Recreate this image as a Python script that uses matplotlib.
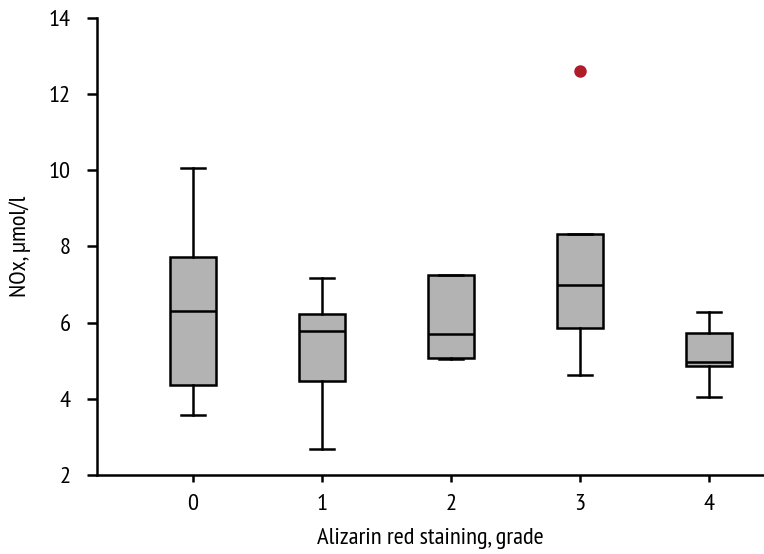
import matplotlib
matplotlib.use("Agg")
import matplotlib.pyplot as plt
from matplotlib import font_manager

regular = {f.name for f in font_manager.fontManager.ttflist
           if f.style == 'normal' and f.weight in (400, 'normal', 'regular')}
prefs = ["Open Sans Condensed", "PT Sans Narrow", "Roboto Condensed", "Asap Condensed",
         "Archivo Narrow", "Fira Sans Condensed", "Open Sans"]
fam = next((p for p in prefs if p in regular), "DejaVu Sans")
plt.rcParams['font.family'] = [fam, 'DejaVu Sans']
plt.rcParams['font.weight'] = 'normal'

grades = ["0", "1", "2", "3", "4"]
whisker_low = [3.57, 2.68, 5.04, 4.62, 4.06]
q1 = [4.36, 4.47, 5.08, 5.87, 4.86]
median = [6.30, 5.78, 5.69, 6.99, 4.96]
q3 = [7.72, 6.22, 7.25, 8.32, 5.74]
whisker_high = [10.07, 7.17, 7.25, 8.32, 6.29]
outliers = [[], [], [], [12.62], []]

y_ticks = [2, 4, 6, 8, 10, 12, 14]
xlabel = "Alizarin red staining, grade"
ylabel = "NOx, µmol/l"

fig = plt.figure(figsize=(7.64, 5.54), dpi=100)
ax = fig.add_axes([0.127, 0.1426, 0.873, 0.825])

# calibrate font size so axis labels match reference widths (231 px, 98 px)
p1 = fig.text(0, 0, xlabel, fontsize=14)
p2 = fig.text(0, 0, ylabel, fontsize=14)
fig.canvas.draw()
w = p1.get_window_extent().width + p2.get_window_extent().width
p1.remove(); p2.remove()
fs = 14 * (231.0 + 98.0) / w

stats = []
for i, g in enumerate(grades):
    stats.append(dict(label=g, whislo=whisker_low[i], q1=q1[i], med=median[i],
                      q3=q3[i], whishi=whisker_high[i], fliers=outliers[i]))

lw = 1.8
ax.bxp(stats, positions=range(len(grades)), widths=0.35, patch_artist=True,
       showfliers=True,
       boxprops=dict(facecolor="#b2b3b2", edgecolor="black", linewidth=lw),
       medianprops=dict(color="black", linewidth=lw),
       whiskerprops=dict(color="black", linewidth=lw),
       capprops=dict(color="black", linewidth=lw),
       capwidths=0.19,
       flierprops=dict(marker="o", markerfacecolor="#b01c2a", markeredgecolor="#b01c2a",
                       markersize=8))

ax.set_xlim(-0.744, 4.426)
ax.set_ylim(2, 14)
ax.set_yticks(y_ticks)
ax.set_xticks(range(len(grades)))
ax.set_xticklabels(grades)
for s in ["top", "right"]:
    ax.spines[s].set_visible(False)
for s in ["left", "bottom"]:
    ax.spines[s].set_linewidth(lw)
ax.tick_params(axis="y", length=7, width=lw, labelsize=fs, pad=12)
ax.tick_params(axis="x", length=5, width=lw, labelsize=fs, pad=9)
ax.set_ylabel(ylabel, fontsize=fs, va="center")
ax.set_xlabel(xlabel, fontsize=fs, va="center")
ax.yaxis.set_label_coords(-0.1155, 0.5)
ax.xaxis.set_label_coords(0.5, -0.140)

fig.savefig("out.png", dpi=100)
